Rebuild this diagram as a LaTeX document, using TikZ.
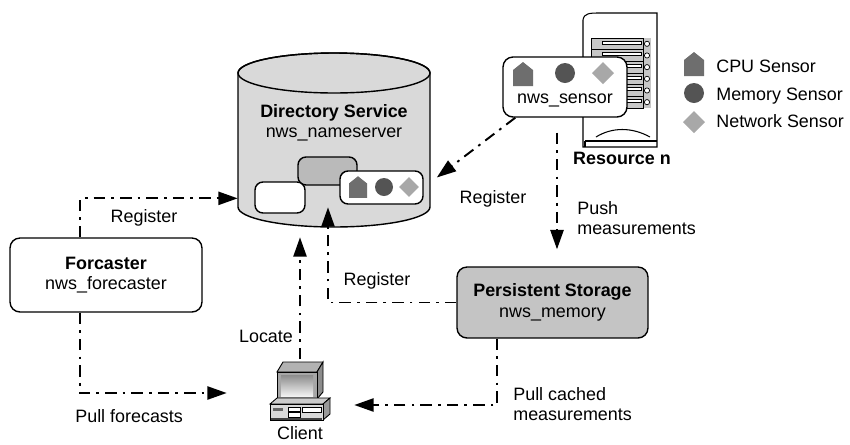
\documentclass[tikz,border=0pt]{standalone}
\usepackage{fontspec}
\setmainfont{Liberation Sans}
\usepackage{xcolor}
\usepackage{tikz}
\usetikzlibrary{arrows.meta, positioning, calc}

% sensor glyphs, drawn around their centre
\tikzset{
    cpusens/.pic={\fill[black!57] (-10,12) -- (10,12) -- (10,-4) -- (0,-12) -- (-10,-4) -- cycle;},
    memsens/.pic={\fill[black!67] (0,0) circle[radius=10];},
    netsens/.pic={\fill[black!34] (-11,0) -- (0,-11) -- (11,0) -- (0,11) -- cycle;}
}

\begin{document}
\begin{tikzpicture}[x=0.02cm, y=-0.02cm, font=\fontsize{10.2}{11.6}\selectfont,
    box/.style={draw, line width=0.8pt, rounded corners=0.2cm, align=center},
    inbox/.style={draw, line width=0.8pt, rounded corners=0.16cm},
    flow/.style={line width=1.1pt, dash pattern=on 6.5pt off 3.5pt on 1.5pt off 3.5pt,
        -{Triangle[length=11pt, width=7.5pt]}},
    lbl/.style={inner sep=0pt, text height=1.6ex, text depth=0.4ex}
]
    \useasboundingbox (0,0) rectangle (850,444);

    % directory service cylinder
    \filldraw[fill=gray!30, line width=0.8pt] (238,73) -- (238,207)
        arc[start angle=180, end angle=360, x radius=1.92cm, y radius=0.4cm] -- (430,73)
        arc[start angle=0, end angle=180, x radius=1.92cm, y radius=0.4cm] -- cycle;
    \draw[line width=0.8pt] (334,73) ellipse[x radius=1.92cm, y radius=0.4cm];
    \node[minimum width=3.84cm, minimum height=3.08cm, inner sep=0pt] (dirsvc) at (334,130) {};
    \node[align=center] at (334,123) {\textbf{Directory Service}\\nws\_nameserver};
    \node[inbox, fill=black!27, minimum width=1.18cm, minimum height=0.56cm] (dsmem) at (327.5,171) {};
    \node[inbox, fill=white, minimum width=1cm, minimum height=0.62cm] (dsfc) at (280,197.5) {};
    \node[inbox, fill=white, minimum width=1.66cm, minimum height=0.66cm] (dsens) at (381.5,187.5) {};
    \pic[scale=0.9] at (358,187) {cpusens};
    \pic[scale=0.9] at (384,187) {memsens};
    \pic[scale=0.9] at (409,187) {netsens};

    % resource n (server tower)
    \draw[line width=0.6pt, fill=white] (583,147) -- (583,20)
        .. controls (584,13) and (590,13) .. (600,13) -- (657,13) -- (657,147) -- cycle;
    \draw[line width=0.6pt] (585,141) -- (657,141);
    \draw[line width=0.6pt] (585,141) -- (585,147);
    \draw[line width=0.6pt] (596,137) .. controls (612,127) and (632,127) .. (650,137);
    \fill[black!22] (591,38) rectangle (651,108);
    \foreach \i in {0,...,5} {
        \draw[line width=0.4pt, fill=black!22] (591,38+11.67*\i) rectangle (643,49.67+11.67*\i);
        \draw[line width=0.4pt, fill=white] (602,41+11.67*\i) rectangle (641,44+11.67*\i);
        \draw[line width=0.4pt, fill=white] (647,43.8+11.67*\i) circle[radius=2.6];
    }
    \node[font=\fontsize{10.2}{11.6}\selectfont\bfseries] at (622,158) {Resource n};

    % sensor host box
    \node[box, fill=white, minimum width=2.48cm, minimum height=1.2cm] (sensor) at (565,87) {};
    \pic at (523,74) {cpusens};
    \pic at (565,73) {memsens};
    \pic at (603,73) {netsens};
    \node at (565,100) {nws\_sensor};

    % legend
    \pic at (694,64) {cpusens};
    \pic at (694,93) {memsens};
    \pic at (694,122) {netsens};
    \node[lbl, anchor=west] at (716,67) {CPU Sensor};
    \node[lbl, anchor=west] at (716,95) {Memory Sensor};
    \node[lbl, anchor=west] at (716,122) {Network Sensor};

    % forecaster and memory
    \node[box, fill=white, minimum width=3.84cm, minimum height=1.48cm] (fc) at (106,275)
        {\textbf{Forcaster}\\nws\_forecaster};
    \node[box, fill=black!23, minimum width=3.82cm, minimum height=1.42cm] (ps) at (552.5,302.5)
        {\textbf{Persistent Storage}\\nws\_memory};

    % client workstation
    \node[minimum width=1.4cm, minimum height=1.26cm, inner sep=0pt] (client) at (300,391) {};
    \draw[line width=0.5pt, fill=black!30] (277,372) -- (283,362) -- (323,362) -- (317,372) -- cycle;
    \draw[line width=0.5pt, fill=black!45] (317,372) -- (323,362) -- (323,392) -- (317,399) -- cycle;
    \draw[line width=0.5pt, fill=black!35] (277,372) rectangle (317,399);
    \shade[top color=black!45, bottom color=black!5] (281,375) rectangle (313,396);
    \draw[line width=0.5pt, fill=black!20] (270,404) -- (277,398) -- (330,398) -- (323,404) -- cycle;
    \draw[line width=0.5pt, fill=black!40] (323,404) -- (330,398) -- (330,414) -- (323,420) -- cycle;
    \draw[line width=0.5pt, fill=black!15] (270,404) rectangle (323,420);
    \fill[black!60] (273,408) rectangle (283,411);
    \draw[line width=0.4pt, fill=white] (288,407) rectangle (300,411.5);
    \draw[line width=0.4pt, fill=white] (288,412.5) rectangle (300,417);
    \draw[line width=0.4pt, fill=white] (302,407) rectangle (321,412);
    \fill[black!75] (271,417.5) rectangle (322,420);
    \node[below=0.06cm of client, inner sep=0pt] {Client};

    % message flows
    \draw[flow] ($(fc.north)+(-26,0)$) |- ($(dirsvc.south west)+(0,-9)$);
    \node[lbl] at (144,217) {Register};
    \draw[flow, shorten >=0.33cm] ($(sensor.south west)+(13,0)$) -- (dsens.east);
    \node[lbl] at (493,198) {Register};
    \draw[flow, shorten <=0.3cm, shorten >=0.34cm] ($(ps.north |- sensor.south)+(4.5,0)$)
        -- ($(ps.north)+(4.5,0)$);
    \node[align=left, anchor=west, inner sep=0pt] at (577,218) {Push\\measurements};
    \draw[flow] (ps.west) -| ($(dirsvc.south)+(-6,0)$);
    \node[lbl] at (377,280) {Register};
    \draw[flow, shorten >=0.6cm] (client.north) -- (client.north |- dirsvc.south);
    \node[lbl] at (266,337) {Locate};
    \draw[flow, shorten >=0.76cm] ($(fc.south)+(-26,0)$) |- ($(client.west)+(0,2)$);
    \node[lbl, anchor=west] at (75,417) {Pull forecasts};
    \draw[flow, shorten >=0.38cm] ($(ps.south west)+(41,0)$) |- ($(client.east)+(0,14)$);
    \node[align=left, anchor=west, inner sep=0pt] at (513,404) {Pull cached\\measurements};
\end{tikzpicture}
\end{document}
